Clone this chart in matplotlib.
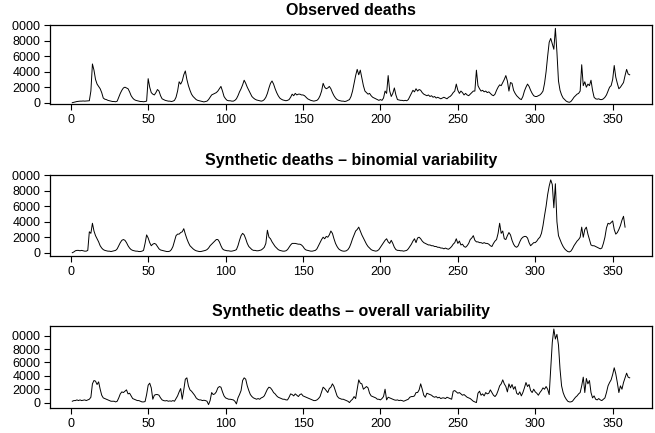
import matplotlib
matplotlib.use('Agg')
import matplotlib.pyplot as plt
from matplotlib.transforms import Bbox
import numpy as np

plt.rcParams['font.family'] = ['Liberation Sans', 'DejaVu Sans']

# Observed deaths, t = 1..361
observed = [
    0, 50, 100, 150, 180, 200, 200, 220, 200, 220,
    230, 250, 1500, 5000, 4200, 3000, 2400, 2100, 1800, 1300,
    600, 450, 400, 300, 250, 200, 150, 150, 120, 200,
    700, 1200, 1600, 1900, 2000, 1900, 1800, 1400, 900, 600,
    400, 300, 250, 200, 150, 150, 120, 150, 200, 3100,
    2000, 1300, 1100, 1000, 1300, 1700, 1500, 900, 500, 400,
    300, 250, 200, 200, 150, 200, 300, 700, 1500, 2700,
    2400, 2800, 3600, 4100, 3000, 2200, 1600, 1100, 800, 600,
    400, 300, 250, 200, 150, 100, 150, 200, 400, 700,
    1000, 1100, 1200, 1300, 1500, 1800, 2100, 1500, 800, 500,
    300, 250, 250, 200, 200, 300, 500, 900, 1400, 1800,
    2300, 2900, 2500, 2000, 1600, 1200, 800, 600, 450, 350,
    300, 250, 200, 250, 400, 700, 1200, 1900, 2500, 2800,
    2400, 1800, 1300, 900, 600, 450, 350, 300, 250, 300,
    400, 700, 1100, 900, 1200, 1000, 1100, 1100, 1000, 1000,
    900, 700, 500, 400, 300, 250, 200, 250, 300, 500,
    900, 1500, 2500, 2000, 1800, 1900, 2100, 1800, 1300, 900,
    600, 400, 300, 250, 200, 200, 150, 200, 300, 400,
    800, 1500, 2500, 3500, 4300, 3600, 4200, 3200, 2200, 1500,
    1300, 1100, 1200, 900, 700, 600, 500, 400, 300, 400,
    300, 600, 1500, 1200, 3500, 1500, 800, 1200, 1900, 1000,
    400, 350, 300, 300, 250, 300, 250, 400, 800, 1200,
    1600, 1400, 1800, 1500, 1700, 1600, 1300, 1100, 1000, 900,
    1000, 800, 900, 700, 800, 600, 700, 600, 500, 600,
    700, 600, 500, 700, 800, 1000, 1300, 1500, 2400, 1600,
    1200, 1500, 1300, 1000, 1200, 1000, 900, 1100, 1300, 1500,
    1500, 4200, 2200, 1800, 1500, 1600, 1400, 1500, 1300, 1400,
    1200, 1000, 900, 1100, 1600, 2000, 2300, 2200, 2600, 3000,
    3500, 2800, 1500, 2600, 2500, 1600, 1200, 900, 700, 500,
    400, 800, 1500, 2000, 2400, 2100, 1600, 1200, 900, 800,
    800, 900, 1000, 1200, 1500, 2500, 4000, 6000, 7800, 8300,
    7600, 6900, 9600, 6500, 2800, 1600, 1000, 600, 400, 200,
    100, 50, 150, 400, 700, 900, 1100, 1200, 1500, 4900,
    2200, 2700, 2000, 2400, 2200, 2900, 1600, 700, 500, 450,
    500, 400, 400, 500, 700, 1000, 1500, 2000, 2200, 3000,
    4800, 3300, 2500, 1800, 2000, 2300, 2600, 3500, 4300, 3700,
    3600,
]

# Synthetic deaths - binomial variability
binomial = [
    0, 100, 250, 300, 300, 250, 300, 250, 200, 200,
    300, 2700, 2500, 3800, 2800, 2200, 1800, 1400, 900, 600,
    400, 300, 250, 200, 200, 150, 200, 250, 300, 500,
    900, 1300, 1600, 1700, 1600, 1300, 900, 600, 400, 300,
    250, 200, 200, 150, 150, 200, 300, 1200, 2300, 1900,
    1300, 900, 1100, 1200, 1100, 800, 500, 350, 300, 250,
    200, 150, 150, 200, 400, 800, 1500, 2200, 2400, 2400,
    2600, 2700, 3100, 2400, 1800, 1300, 900, 700, 500, 350,
    250, 200, 150, 150, 200, 250, 300, 400, 600, 900,
    1100, 1300, 1500, 1700, 1700, 1400, 900, 500, 350, 300,
    250, 250, 200, 200, 250, 300, 400, 900, 1600, 2200,
    2500, 2300, 1800, 1200, 800, 600, 400, 300, 300, 250,
    250, 300, 350, 500, 700, 1200, 2900, 2000, 1800, 1400,
    1100, 800, 600, 400, 300, 250, 200, 200, 250, 400,
    700, 1000, 1200, 1200, 1200, 1150, 1100, 1100, 1000, 800,
    500, 350, 300, 250, 200, 200, 250, 300, 500, 900,
    1300, 1700, 2000, 1800, 2100, 2000, 2300, 2800, 2500, 1800,
    1200, 800, 500, 350, 250, 200, 200, 250, 400, 700,
    1200, 1800, 2300, 2800, 3000, 3300, 2800, 2300, 1900, 1500,
    1100, 800, 600, 400, 300, 250, 200, 250, 400, 700,
    1000, 1300, 1600, 1800, 1400, 1200, 1600, 1200, 700, 400,
    300, 300, 250, 250, 200, 250, 300, 500, 800, 1100,
    1500, 1800, 1300, 1900, 2000, 1800, 1500, 1300, 1200, 1100,
    1000, 1000, 900, 900, 800, 800, 700, 700, 600, 600,
    500, 600, 500, 450, 600, 800, 1100, 1300, 1800, 1200,
    1500, 1000, 1100, 800, 700, 900, 1200, 1700, 1900, 2200,
    1600, 1400, 1400, 1300, 1300, 1200, 1300, 1200, 1200, 1100,
    900, 800, 1200, 1500, 1700, 2500, 3800, 2500, 2800, 1800,
    1700, 2200, 2600, 2300, 1600, 1100, 800, 700, 900, 1400,
    1800, 2000, 2100, 2100, 1900, 1300, 900, 1100, 1300, 1300,
    1500, 1800, 2000, 2500, 3500, 4800, 6000, 7500, 8600, 9400,
    8800, 5800, 8900, 4000, 2200, 1700, 1200, 800, 500, 300,
    150, 100, 200, 500, 900, 1200, 1500, 1700, 2000, 3300,
    2000, 3000, 3300, 2400, 1700, 1000, 900, 900, 800, 700,
    600, 500, 600, 1200, 2000, 3200, 3800, 3700, 3900, 4100,
    3000, 2400, 2600, 3000, 3500, 4200, 4700, 3300,
]

# Synthetic deaths - overall variability
overall = [
    200, 300, 300, 400, 300, 400, 300, 350, 400, 300,
    400, 500, 800, 2800, 3300, 3200, 2700, 3100, 2000, 1100,
    700, 600, 500, 400, 300, 200, 200, 200, 100, 200,
    700, 1300, 1600, 1500, 1700, 1900, 1300, 1400, 1000, 600,
    500, 400, 300, 300, 200, 100, 100, 150, 1200, 2600,
    2900, 2200, 500, 1100, 1200, 1200, 1100, 700, 400, 300,
    250, 300, 200, 250, 200, 300, 200, 600, 1000, 1600,
    2100, 500, 1900, 3500, 3700, 2500, 1900, 1700, 1400, 1100,
    700, 500, 400, 400, 300, 350, 300, 200, -300, 300,
    1500, 1200, 1300, 1600, 2200, 2400, 2300, 1600, 1000, 700,
    600, 500, 500, 450, 400, 200, -200, 700, 1200, 1800,
    3300, 3700, 3500, 2500, 1800, 1200, 900, 700, 600, 500,
    600, 500, 700, 800, 1000, 1500, 2000, 2300, 2200, 1900,
    1500, 1300, 1000, 800, 700, 600, 500, 500, 400, 400,
    800, 1300, 1200, 1000, 1300, 1100, 900, 1200, 1300, 1000,
    900, 800, 700, 600, 500, 400, 300, 300, 400, 600,
    900, 1600, 2300, 2100, 1800, 1500, 2100, 2300, 2800, 2400,
    1700, 1000, 700, 600, 500, 500, 400, 300, 200, 0,
    300, 500, 900, 600, 2000, 3400, 2900, 2800, 2000, 2200,
    2400, 2200, 1400, 1000, 900, 800, 700, 500, 500, 400,
    600, 900, 2000, 400, 800, 700, 600, 500, 400, 350,
    400, 300, 350, 300, 200, 300, 400, 500, 800, 900,
    900, 1000, 1500, 1500, 1900, 2800, 2000, 1100, 800, 1400,
    1300, 1200, 1100, 900, 800, 900, 700, 800, 600, 700,
    700, 600, 800, 700, 600, 500, 1700, 1800, 1600, 1400,
    1500, 1300, 1100, 1200, 1000, 800, 700, 600, 400, 200,
    100, 0, 1400, 1700, 1100, 1300, 1000, 1500, 1300, 1400,
    1900, 1500, 1100, 900, 1200, 1800, 2500, 2800, 3400, 2800,
    2400, 1600, 2800, 2200, 2700, 2000, 2400, 1400, 1200, 1600,
    1000, 1500, 2200, 3000, 2400, 2700, 1800, 1500, 2000, 1600,
    1400, 1100, 1500, 1800, 2200, 2000, 2400, 2000, 1200, 5000,
    9000, 11000, 9500, 10200, 8600, 5000, 2500, 1500, 900, 500,
    200, 100, 100, 200, 500, 800, 1000, 1300, 1500, 2500,
    3800, 1500, 3600, 2800, 3300, 1500, 700, 1000, 500, 400,
    600, 400, 300, 500, 700, 1500, 2500, 3000, 3400, 4200,
    5200, 4300, 3000, 1500, 2500, 2000, 3000, 3700, 4400, 3800,
    3700,
]

titles = [
    "Observed deaths",
    "Synthetic deaths \u2013 binomial variability",
    "Synthetic deaths \u2013 overall variability",
]
x_ticks = [0, 50, 100, 150, 200, 250, 300, 350]
y_ticks = [0, 2000, 4000, 6000, 8000, 10000]

W, H = 655, 433
fig = plt.figure(figsize=(W / 100, H / 100), dpi=100)

# (top px, bottom px, ylim)
panels = [
    (25, 104, (-170, 10030)),
    (175, 256, (-425, 10030)),
    (326, 408, (-810, 11450)),
]

axes = []
for series, title, (top, bot, ylim) in zip([observed, binomial, overall], titles, panels):
    ax = fig.add_axes([50 / W, 1 - bot / H, 602 / W, (bot - top) / H])
    t = np.arange(1, len(series) + 1)
    ax.plot(t, series, color='black', lw=0.7)
    ax.set_xlim(-13.4, 375.4)
    ax.set_ylim(*ylim)
    ax.set_xticks(x_ticks)
    ax.set_yticks(y_ticks)
    ax.set_xticklabels([str(v) for v in x_ticks])
    ax.set_yticklabels([str(v) for v in y_ticks])
    ax.tick_params(direction='out', length=4.5, width=0.8, labelsize=9, pad=2.5)
    ax.set_title(title, fontsize=11.5, fontweight='bold', pad=7)
    for s in ax.spines.values():
        s.set_linewidth(0.9)
    axes.append(ax)

# The left figure margin clips the leading "1" of the widest y labels
fig.canvas.draw()
renderer = fig.canvas.get_renderer()
for ax in axes:
    labels = ax.get_yticklabels()
    widest = max(labels, key=lambda l: len(l.get_text()))
    ext = widest.get_window_extent(renderer)
    cut = ext.x0 + ext.width / len(widest.get_text())
    box = Bbox([[cut, 0], [fig.bbox.width, fig.bbox.height]])
    for lbl in labels:
        lbl.set_clip_on(True)
        lbl.set_clip_box(box)

fig.savefig('out.png', dpi=100)
